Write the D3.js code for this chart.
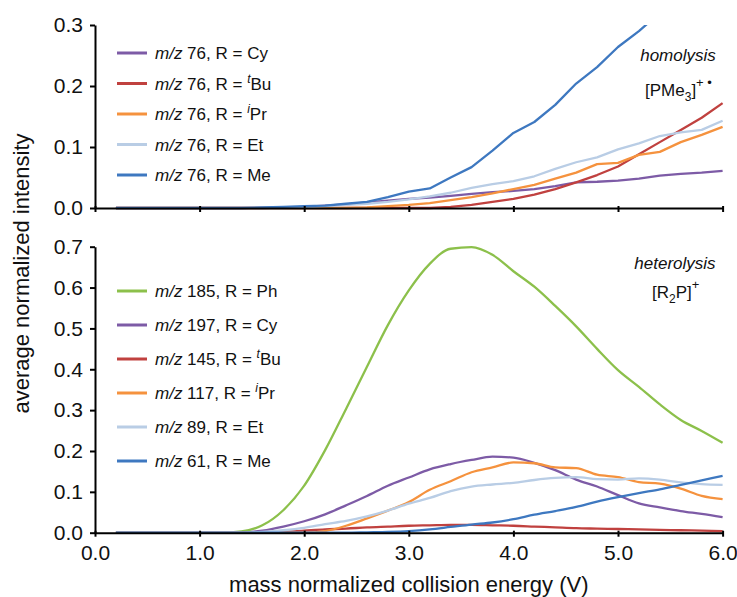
<!DOCTYPE html>
<html><head><meta charset="utf-8">
<script src="https://cdn.jsdelivr.net/npm/d3@7"></script>
<style>
body{margin:0;background:#fff;}
text{font-family:"Liberation Sans",Arial,Helvetica,sans-serif;fill:#111;}
</style>
</head><body>
<svg id="chart" width="737" height="597"></svg>
<script>
// ---- data ----
const energy = [0.2,0.4,0.6,0.8,1.0,1.2,1.4,1.6,1.8,2.0,2.2,2.4,2.6,2.8,3.0,3.2,3.4,3.6,3.8,4.0,4.2,4.4,4.6,4.8,5.0,5.2,5.4,5.6,5.8,6.0];
const xTicks = [0,1,2,3,4,5,6];
const yTicksTop = [0,0.1,0.2,0.3];
const yTicksBottom = [0,0.1,0.2,0.3,0.4,0.5,0.6,0.7];

// top panel: homolysis, m/z 76
const topMz = [76,76,76,76,76];
const topRSup = ["","t","i","",""];
const topRBase = ["Cy","Bu","Pr","Et","Me"];
const topColors = ["#7d5ba6","#c0413f","#f5923e","#b9cde5","#3e78c0"];
const topCy  = [0,0,0,0,0,0,0,0,0.001,0.002,0.004,0.006,0.009,0.012,0.015,0.017,0.020,0.023,0.026,0.028,0.031,0.036,0.042,0.043,0.045,0.048,0.053,0.056,0.058,0.061];
const topTBu = [0,0,0,0,0,0,0,0,0,0,0,0,0,0,0,0,0.002,0.005,0.010,0.015,0.022,0.031,0.042,0.054,0.068,0.088,0.108,0.128,0.148,0.172];
const topIPr = [0,0,0,0,0,0,0,0,0,0,0,0,0.001,0.003,0.005,0.008,0.013,0.018,0.024,0.031,0.038,0.048,0.058,0.072,0.074,0.087,0.092,0.108,0.120,0.133];
const topEt  = [0,0,0,0,0,0,0,0,0,0.001,0.003,0.005,0.007,0.010,0.014,0.019,0.025,0.033,0.039,0.044,0.052,0.064,0.075,0.083,0.096,0.106,0.118,0.124,0.128,0.143];
const topMe  = [0,0,0,0,0,0,0,0.001,0.002,0.003,0.004,0.007,0.010,0.018,0.027,0.032,0.050,0.067,0.094,0.123,0.141,0.169,0.204,0.231,0.264,0.290,0.320,null,null,null];

// bottom panel: heterolysis, [R2P]+
const botMz = [185,197,145,117,89,61];
const botRSup = ["","","t","i","",""];
const botRBase = ["Ph","Cy","Bu","Pr","Et","Me"];
const botColors = ["#8cc04b","#7d5ba6","#c0413f","#f5923e","#b9cde5","#3e78c0"];
const botPh  = [0,0,0,0,0,0,0.003,0.018,0.055,0.115,0.202,0.303,0.406,0.508,0.593,0.658,0.695,0.699,0.680,0.640,0.602,0.555,0.505,0.450,0.398,0.357,0.314,0.276,0.249,0.220];
const botCy  = [0,0,0,0,0,0,0,0.005,0.015,0.028,0.045,0.067,0.090,0.115,0.135,0.155,0.168,0.178,0.186,0.184,0.171,0.153,0.130,0.113,0.092,0.072,0.062,0.053,0.046,0.038];
const botTBu = [0,0,0,0,0,0,0,0,0.002,0.005,0.008,0.010,0.013,0.015,0.017,0.018,0.019,0.019,0.018,0.017,0.015,0.013,0.011,0.010,0.009,0.008,0.007,0.006,0.005,0.004];
const botIPr = [0,0,0,0,0,0,0,0,0,0,0.004,0.017,0.035,0.054,0.075,0.105,0.126,0.148,0.160,0.172,0.170,0.160,0.158,0.142,0.136,0.124,0.120,0.108,0.090,0.082];
const botEt  = [0,0,0,0,0,0,0,0.002,0.006,0.012,0.021,0.029,0.040,0.054,0.071,0.085,0.102,0.113,0.118,0.122,0.129,0.134,0.136,0.131,0.130,0.133,0.130,0.123,0.119,0.117];
const botMe  = [0,0,0,0,0,0,0,0,0,0,0,0,0.001,0.002,0.004,0.008,0.014,0.020,0.025,0.033,0.044,0.053,0.063,0.076,0.087,0.097,0.106,0.117,0.128,0.139];

const topSeries = [topCy, topTBu, topIPr, topEt, topMe];
const botSeries = [botPh, botCy, botTBu, botIPr, botEt, botMe];

// ---- drawing ----
const svg = d3.select("#chart");
const x = d3.scaleLinear().domain([0,6]).range([95,722.6]);
const yTop = d3.scaleLinear().domain([0,0.3]).range([208,25]);
const yBot = d3.scaleLinear().domain([0,0.7]).range([532.7,246.7]);
const fmt = d3.format(".1f");

svg.append("defs").append("clipPath").attr("id","clipTop")
  .append("rect").attr("x",x(0)).attr("y",yTop(0.3)).attr("width",x(6)-x(0)+5).attr("height",yTop(0)-yTop(0.3)+5);

function styleAxis(g){
  g.select(".domain").attr("stroke","#000").attr("stroke-width",2);
  g.selectAll(".tick line").attr("stroke","#000").attr("stroke-width",2);
  g.selectAll(".tick text").attr("font-size",21).attr("fill","#1a1a1a")
    .attr("font-family","'Liberation Sans',Arial,sans-serif");
}

function drawPanel(y, yTicks, series, colors, showXLabels, clip, curve){
  const line = d3.line().defined(d=>d[1]!==null).x(d=>x(d[0])).y(d=>y(d[1])).curve(curve);
  const g = svg.append("g");
  if(clip) g.attr("clip-path","url(#clipTop)");
  series.forEach((vals,i)=>{
    g.append("path")
      .datum(energy.map((e,j)=>[e, vals[j]]))
      .attr("fill","none").attr("stroke",colors[i]).attr("stroke-width",2.3)
      .attr("stroke-linejoin","round").attr("d",line);
  });
  const xa = d3.axisBottom(x).tickValues(xTicks).tickSize(4).tickSizeOuter(0)
    .tickFormat(showXLabels ? fmt : "");
  svg.append("g").attr("transform",`translate(0,${y(0)})`).call(xa).call(styleAxis)
    .call(g=>g.selectAll(".tick line").attr("y1",-2))
    .call(g=>g.selectAll(".tick text").attr("dy","0.95em"));
  const ya = d3.axisLeft(y).tickValues(yTicks).tickSize(5).tickSizeOuter(0).tickFormat(fmt).tickPadding(7);
  svg.append("g").attr("transform",`translate(${x(0)},0)`).call(ya).call(styleAxis);
}

drawPanel(yTop, yTicksTop, topSeries, topColors, false, true, d3.curveLinear);
drawPanel(yBot, yTicksBottom, botSeries, botColors, true, false, d3.curveMonotoneX);

function legend(y0, dy, mz, sup, base, colors){
  mz.forEach((m,i)=>{
    const yy = y0 + i*dy;
    svg.append("line").attr("x1",117).attr("x2",147).attr("y1",yy).attr("y2",yy)
      .attr("stroke",colors[i]).attr("stroke-width",3);
    const t = svg.append("text").attr("x",155).attr("y",yy+6).attr("font-size",17);
    t.append("tspan").attr("font-style","italic").text("m/z");
    t.append("tspan").text(" " + m + ", R = ");
    if(sup[i]){
      t.append("tspan").attr("font-style","italic").attr("font-size",12).attr("dy",-7).text(sup[i]);
      t.append("tspan").attr("dy",7).text(base[i]);
    } else {
      t.append("tspan").text(base[i]);
    }
  });
}
legend(53, 30.5, topMz, topRSup, topRBase, topColors);
legend(291, 34, botMz, botRSup, botRBase, botColors);

// annotations
svg.append("text").attr("x",678).attr("y",61).attr("text-anchor","middle")
  .attr("font-size",17).attr("font-style","italic").text("homolysis");
const a1 = svg.append("text").attr("x",645).attr("y",96).attr("font-size",17);
a1.append("tspan").text("[PMe");
a1.append("tspan").attr("font-size",12).attr("dy",5).text("3");
a1.append("tspan").attr("dy",-5).text("]");
a1.append("tspan").attr("font-size",13).attr("dy",-9).text("+ \u2022");

svg.append("text").attr("x",675).attr("y",269).attr("text-anchor","middle")
  .attr("font-size",17).attr("font-style","italic").text("heterolysis");
const a2 = svg.append("text").attr("x",652).attr("y",298).attr("font-size",17);
a2.append("tspan").text("[R");
a2.append("tspan").attr("font-size",12).attr("dy",5).text("2");
a2.append("tspan").attr("dy",-5).text("P]");
a2.append("tspan").attr("font-size",13).attr("dy",-9).text("+");

// axis titles
svg.append("text").attr("x",x(3)).attr("y",592).attr("text-anchor","middle")
  .attr("font-size",22).text("mass normalized collision energy (V)");
svg.append("text").attr("transform","translate(29,273.5) rotate(-90)").attr("text-anchor","middle")
  .attr("font-size",22).text("average normalized intensity");
</script>
</body></html>
